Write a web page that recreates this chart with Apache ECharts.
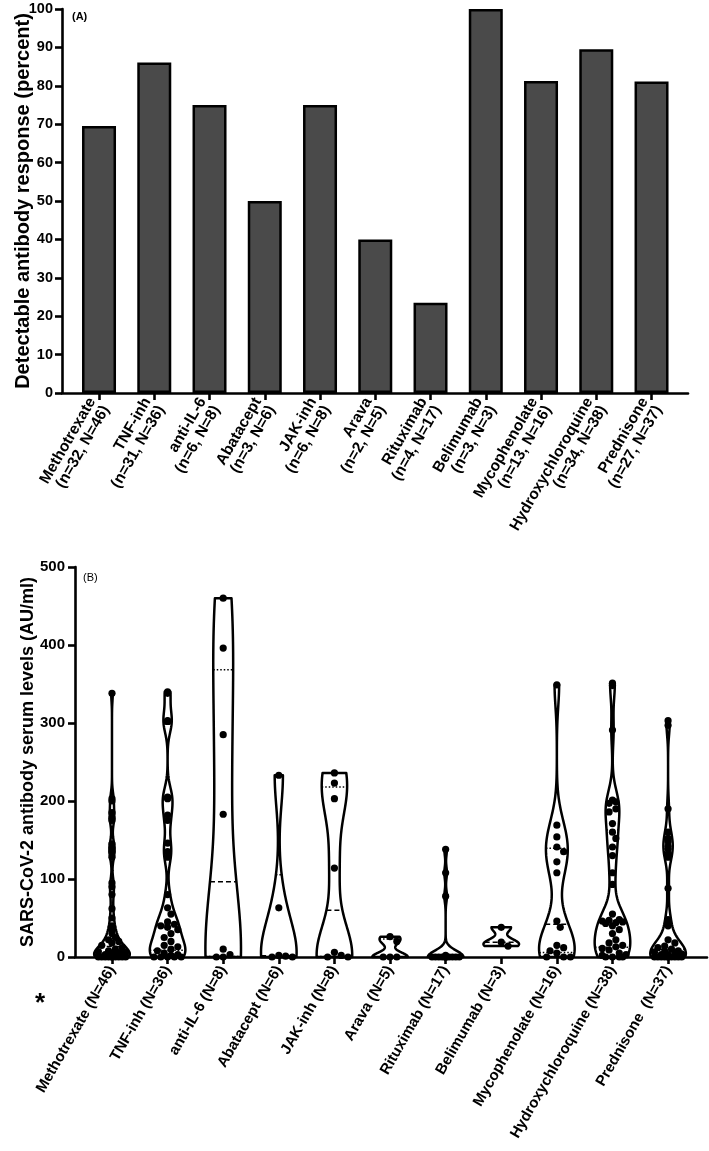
<!DOCTYPE html>
<html><head><meta charset="utf-8">
<script src="https://cdn.jsdelivr.net/npm/echarts@6/dist/echarts.min.js"></script>
<style>html,body{margin:0;padding:0;background:#fff}#c{width:709px;height:1151px}</style>
</head><body><div id="c"></div>
<script>
// ---------- DATA ----------
const drugs = ['Methotrexate','TNF-inh','anti-IL-6','Abatacept','JAK-inh','Arava','Rituximab','Belimumab','Mycophenolate','Hydroxychloroquine','Prednisone'];
const countsA = ['(n=32, N=46)','(n=31, N=36)','(n=6, N=8)','(n=3, N=6)','(n=6, N=8)','(n=2, N=5)','(n=4, N=17)','(n=3, N=3)','(n=13, N=16)','(n=34, N=38)','(n=27, N=37)'];
const labelsB = ['Methotrexate (N=46)','TNF-inh (N=36)','anti-IL-6 (N=8)','Abatacept (N=6)','JAK-inh (N=8)','Arava (N=5)','Rituximab (N=17)','Belimumab (N=3)','Mycophenolate (N=16)','Hydroxychloroquine (N=38)','Prednisone  (N=37)'];
const responsePct = [69.5, 86.1, 75, 50, 75, 40, 23.5, 100, 81.25, 89.5, 81.1];

const methotrexate = [338,203,200,185,178,175,145,140,135,128,95,90,80,62,50,40,35,30,25,22,20,18,15,12,10,8,7,6,5,4,3,3,2,2,1,1,0,0,0,0,0,0,0,0,0,0];
const tnfInh = [340,338,303,302,302,205,204,203,182,175,146,135,128,80,63,55,45,42,40,38,35,30,25,20,15,13,10,8,5,3,2,0,0,0,0,0];
const antiIL6 = [460,396,285,183,10,3,0,0];
const abatacept = [233,63,2,1,0,0];
const jakInh = [236,223,203,114,6,2,0,0];
const arava = [26,20,0,0,0];
const rituximab = [138,108,78,2,0,0,0,0,0,0,0,0,0,0,0,0,0];
const belimumab = [38,19,14];
const mycophenolate = [349,169,154,141,135,122,108,46,38,15,12,8,5,0,0,0];
const hydroxychloroquine = [351,348,291,201,199,197,190,186,171,160,152,141,130,108,93,55,48,47,46,45,44,43,40,35,30,22,18,15,13,11,9,5,3,2,0,0,0,0];
const prednisone = [303,297,190,160,152,148,142,138,132,128,88,48,44,40,22,18,14,12,10,8,7,6,5,4,3,3,2,0,0,0,0,0,0,0,0,0,0];
const groups = [methotrexate,tnfInh,antiIL6,abatacept,jakInh,arava,rituximab,belimumab,mycophenolate,hydroxychloroquine,prednisone];
// kernel smoothing (AU/ml) per violin
const bandwidths = [10,15,90,40,40,6,8,6,28,20,15];

// ---------- CHART ----------
const FONT = 'Liberation Sans, Arial, sans-serif';
const idx = drugs.map((_, i) => i);
const MAXHW = 0.32;

function quant(sorted, p) {
  const n = sorted.length, pos = (n + 1) * p;
  if (pos <= 1) return sorted[0];
  if (pos >= n) return sorted[n - 1];
  const f = Math.floor(pos), fr = pos - f;
  return sorted[f - 1] + fr * (sorted[f] - sorted[f - 1]);
}

function violinItem(params, api) {
  const gi = api.value(0);
  const vals = groups[gi].slice().sort((a, b) => a - b);
  const h = bandwidths[gi];
  const lo = vals[0], hi = vals[vals.length - 1];
  const dens = y => vals.reduce((s, v) => { const z = (y - v) / h; return s + Math.exp(-0.5 * z * z); }, 0);
  const N = 140, ys = [], ds = [];
  for (let k = 0; k <= N; k++) { const y = lo + (hi - lo) * k / N; ys.push(y); ds.push(dens(y)); }
  const dmax = Math.max(...ds);
  const hw = y => MAXHW * dens(y) / dmax;
  const pts = [];
  for (let k = 0; k <= N; k++) pts.push(api.coord([gi + MAXHW * ds[k] / dmax, ys[k]]));
  for (let k = N; k >= 0; k--) pts.push(api.coord([gi - MAXHW * ds[k] / dmax, ys[k]]));
  const children = [{ type: 'polygon', shape: { points: pts }, style: { fill: 'rgba(255,255,255,0)', stroke: '#000', lineWidth: 2.5, lineJoin: 'round' } }];
  const qs = [[quant(vals, 0.5), [5, 3]], [quant(vals, 0.25), [1.5, 2]], [quant(vals, 0.75), [1.5, 2]]];
  qs.forEach(([q, dash]) => {
    const w = hw(q);
    const a = api.coord([gi - w, q]), b = api.coord([gi + w, q]);
    children.push({ type: 'line', shape: { x1: a[0], y1: a[1], x2: b[0], y2: b[1] }, style: { stroke: '#000', lineWidth: 1.5, lineDash: dash } });
  });
  // dots spread inside the violin
  const R = 3.6, D = 6.8;
  const cx = api.coord([gi, 0])[0];
  const pxCat = api.coord([gi + 1, 0])[0] - cx;
  const placed = [];
  vals.slice().reverse().forEach(v => {
    const py = api.coord([gi, v])[1];
    const lim = Math.max(0, hw(v) * pxCat - R * 0.5);
    let best = 0, bestScore = -1;
    for (let k = 0; k < 40; k++) {
      const off = k === 0 ? 0 : (k % 2 ? 1 : -1) * Math.ceil(k / 2) * D * 0.5;
      if (k > 0 && Math.abs(off) > lim) break;
      let md = Infinity;
      placed.forEach(p => { md = Math.min(md, Math.hypot(p[0] - (cx + off), p[1] - py)); });
      if (md >= D) { best = off; bestScore = md; break; }
      if (md > bestScore) { bestScore = md; best = off; }
    }
    placed.push([cx + best, py]);
  });
  placed.forEach(p => children.push({ type: 'circle', shape: { cx: p[0], cy: p[1], r: R }, style: { fill: '#000' } }));
  return { type: 'group', children };
}

const axisLineX = { show: true, onZero: false, lineStyle: { color: '#000', width: 2.6 } };
const axisLineY = { show: true, onZero: false, lineStyle: { color: '#000', width: 2.6 } };
const axisTick = { show: true, length: 7, lineStyle: { color: '#000', width: 2.6 } };

const chart = echarts.init(document.getElementById('c'), null, { renderer: 'canvas' });
chart.setOption({
  animation: false,
  backgroundColor: '#fff',
  textStyle: { fontFamily: FONT, color: '#000' },
  grid: [
    { left: 62, top: 9, width: 626, height: 384 },
    { left: 75, top: 567, width: 632, height: 390 }
  ],
  xAxis: [
    { type: 'value', gridIndex: 0, min: -0.67, max: 10.66, splitLine: { show: false },
      axisLine: axisLineX, axisTick: Object.assign({ customValues: idx }, axisTick),
      axisLabel: { customValues: idx, rotate: 60, margin: 10, fontSize: 15.5, fontWeight: 'bold', lineHeight: 16, color: '#000', fontFamily: FONT,
        formatter: v => Number.isInteger(v) && v >= 0 && v < drugs.length ? drugs[v] + '\n' + countsA[v] : '' } },
    { type: 'value', gridIndex: 1, min: -0.665, max: 10.7, splitLine: { show: false },
      axisLine: axisLineX, axisTick: Object.assign({ customValues: idx }, axisTick),
      axisLabel: { customValues: idx, rotate: 60, margin: 10, fontSize: 15, fontWeight: 'bold', color: '#000', fontFamily: FONT,
        formatter: v => Number.isInteger(v) && v >= 0 && v < drugs.length ? labelsB[v] : '' } }
  ],
  yAxis: [
    { type: 'value', gridIndex: 0, min: 0, max: 100, interval: 10, splitLine: { show: false }, axisLine: axisLineY, axisTick,
      axisLabel: { fontSize: 14.5, fontWeight: 'bold', margin: 9, color: '#000', fontFamily: FONT },
      name: 'Detectable antibody response (percent)', nameLocation: 'middle', nameGap: 29, nameMoveOverlap: false,
      nameTextStyle: { fontSize: 20, fontWeight: 'bold', color: '#000', fontFamily: FONT } },
    { type: 'value', gridIndex: 1, min: 0, max: 500, interval: 100, splitLine: { show: false }, axisLine: axisLineY, axisTick,
      axisLabel: { fontSize: 15, fontWeight: 'bold', margin: 10, color: '#000', fontFamily: FONT },
      name: 'SARS-CoV-2 antibody serum levels (AU/ml)', nameLocation: 'middle', nameGap: 38, nameMoveOverlap: false,
      nameTextStyle: { fontSize: 18, fontWeight: 'bold', color: '#000', fontFamily: FONT } }
  ],
  series: [
    { type: 'bar', xAxisIndex: 0, yAxisIndex: 0, barWidth: 34,
      itemStyle: { color: '#4a4a4a', borderColor: '#000', borderWidth: 2.5 },
      data: responsePct.map((v, i) => [i, v]) },
    { type: 'custom', xAxisIndex: 1, yAxisIndex: 1, renderItem: violinItem, clip: false,
      data: idx.map(i => [i, 0]) }
  ],
  graphic: [
    { type: 'text', x: 72, y: 11, style: { text: '(A)', fontSize: 11, fontWeight: 'bold', fill: '#000', fontFamily: FONT } },
    { type: 'text', x: 83, y: 572, style: { text: '(B)', fontSize: 11, fill: '#000', fontFamily: FONT } },
    { type: 'text', x: 40, y: 1004, style: { text: '*', fontSize: 26, fontWeight: 'bold', fill: '#000', fontFamily: FONT, align: 'center', verticalAlign: 'middle' } }
  ]
});
</script></body></html>
